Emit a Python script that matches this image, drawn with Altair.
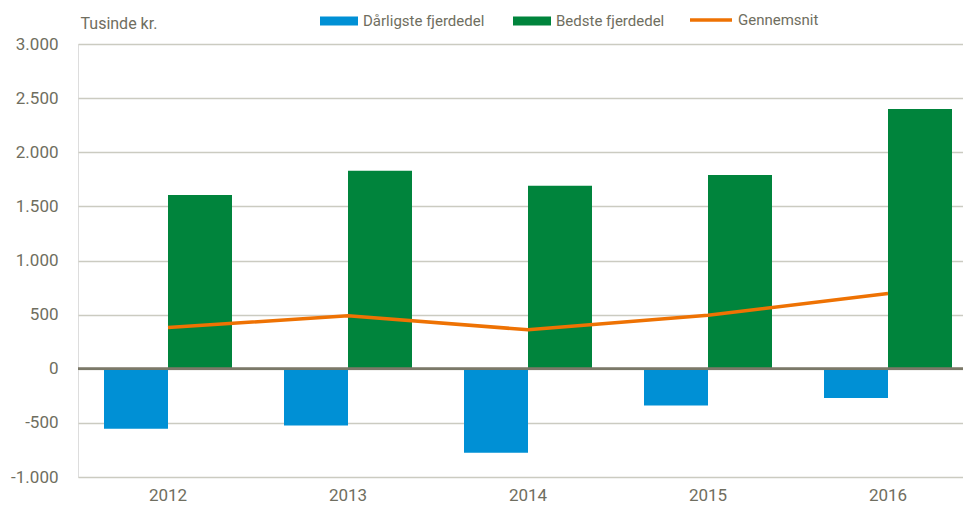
import altair as alt
import pandas as pd

years = ["2012", "2013", "2014", "2015", "2016"]
worst = [-555, -525, -775, -340, -270]
best = [1605, 1830, 1690, 1790, 2400]
avg = [380, 490, 360, 495, 695]

s_worst = "Dårligste fjerdedel"
s_best = "Bedste fjerdedel"
s_avg = "Gennemsnit"

bars_df = pd.DataFrame(
    {"year": years * 2,
     "series": [s_worst] * len(years) + [s_best] * len(years),
     "value": worst + best}
)
line_df = pd.DataFrame({"year": years, "value": avg, "series": [s_avg] * len(years)})

FONT = "Roboto"
GREY = "#6f6e60"

xscale = alt.Scale(domain=years, range=[0, 900], paddingInner=52 / 180, paddingOuter=26 / 180)
yscale = alt.Scale(domain=[-1000, 3000], nice=False, zero=False)

yaxis = alt.Axis(
    values=[-1000, -500, 0, 500, 1000, 1500, 2000, 2500, 3000],
    labelExpr="(datum.value < 0 ? '-' : '') + replace(format(abs(datum.value), ','), ',', '.')",
    domain=False, ticks=False, grid=True, gridColor="#cbcbc1", gridWidth=1.6,
    labelFont=FONT, labelFontSize=17, labelColor=GREY, labelPadding=20,
    title="Tusinde kr.", titleAngle=0, titleAlign="left", titleX=2, titleY=-13,
    titleFont=FONT, titleFontSize=16, titleFontWeight="normal", titleColor=GREY,
)
xaxis = alt.Axis(
    title=None, domain=False, ticks=False, grid=False, labelAngle=0,
    labelFont=FONT, labelFontSize=17, labelColor=GREY, labelPadding=10,
)

bars = alt.Chart(bars_df).mark_bar().encode(
    x=alt.X("year:N", scale=xscale, axis=xaxis),
    xOffset=alt.XOffset("series:N", sort=[s_worst, s_best],
                        scale=alt.Scale(paddingInner=0, paddingOuter=0)),
    y=alt.Y("value:Q", scale=yscale, axis=yaxis),
    fill=alt.Fill(
        "series:N",
        sort=[s_worst, s_best],
        scale=alt.Scale(domain=[s_worst, s_best], range=["#0090d5", "#00843c"]),
        legend=alt.Legend(
            title=None, orient="none", legendX=242, legendY=-42, direction="horizontal",
            symbolType="M-1,-0.24H1V0.24H-1Z", symbolSize=1444, symbolStrokeWidth=0,
            symbolOpacity=1, labelFont=FONT, labelFontSize=15, labelColor=GREY,
            labelOffset=5, columnPadding=28,
        ),
    ),
)

zero = alt.Chart(line_df).mark_rule(color="#7b7968", strokeWidth=2).encode(
    y=alt.datum(0)
)

line = alt.Chart(line_df).mark_line(strokeWidth=3.5).encode(
    x=alt.X("year:N", scale=xscale, axis=xaxis),
    y=alt.Y("value:Q", scale=yscale, axis=yaxis),
    stroke=alt.Stroke(
        "series:N",
        scale=alt.Scale(domain=[s_avg], range=["#ee7203"]),
        legend=alt.Legend(
            title=None, orient="none", legendX=610, legendY=-47, direction="horizontal",
            symbolType="stroke", symbolSize=1764, symbolStrokeWidth=3.5,
            labelFont=FONT, labelFontSize=15, labelColor=GREY, labelOffset=4,
        ),
    ),
)

chart = alt.layer(bars, zero, line).properties(
    width=885, height=433,
    autosize=alt.AutoSizeParams(type="none"),
    padding={"left": 70, "top": 36, "right": 0, "bottom": 28},
).configure_view(stroke=None).configure(background="white")

chart.save("out.html", embed_options={"renderer": "svg", "actions": False})
